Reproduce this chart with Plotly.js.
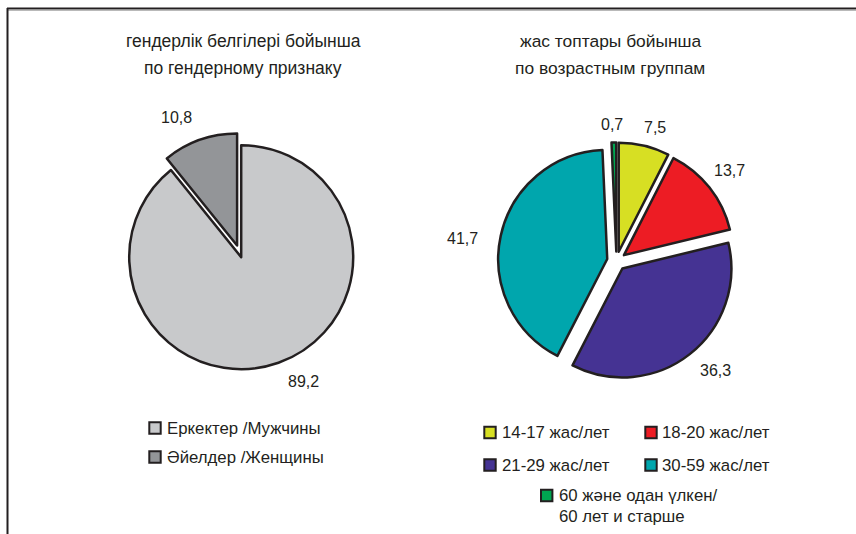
<!DOCTYPE html>
<html><head><meta charset="utf-8">
<script src="https://cdn.plot.ly/plotly-3.0.1.min.js"></script>
<style>html,body{margin:0;padding:0;background:#fff}</style>
</head><body>
<div id="chart" style="width:856px;height:534px"></div>
<script>
// ---------- data ----------
var genderLabels = ['Еркектер /Мужчины', 'Әйелдер /Женщины'];
var genderValues = [89.2, 10.8];
var ageLabels = ['14-17 жас/лет', '18-20 жас/лет', '21-29 жас/лет', '30-59 жас/лет', '60 және одан үлкен/<br>60 лет и старше'];
var ageValues = [7.5, 13.7, 36.3, 41.7, 0.7];
var genderTitle = ['гендерлік белгілері бойынша', 'по гендерному признаку'];
var ageTitle = ['жас топтары бойынша', 'по возрастным группам'];

// ---------- style ----------
var W = 856, H = 534;
function px(x) { return x / W; }
function py(y) { return 1 - y / H; }
var FONT = 'Liberation Sans, Arial, sans-serif';
var INK = '#231f20';
var genderColors = ['#c8c9cb', '#939598'];
var ageColors = ['#d7df23', '#ed1c24', '#453393', '#00a6ad', '#00a651'];
var genderPull = [0, 0.11];
var agePull = [0.087, 0.087, 0.087, 0.087, 0.087];

// pie geometry (pixels): center & half-size of domain
var gC = [241.2, 257.2], gHalf = 124.3;
var aC = [616.5, 261], aHalf = 118.5;

// value label positions (pixels)
var genderLabelPos = [[303, 381], [176, 118]];
var ageLabelPos = [[655, 127], [729, 170], [715, 370], [462, 238], [612, 124]];

// legend positions (pixels): swatch left x, center y, text x
var genderLegendPos = [[149.3, 428, 165], [149.3, 457, 165]];
var ageLegendPos = [[484.3, 432.5, 500], [645.3, 432.5, 660], [484.3, 465, 500], [645.3, 465, 660], [541, 495.5, 557]];
var SW = 11.4; // swatch size (inner)

function fmt(v) { return v.toFixed(1).replace('.', ','); }

var traces = [
  {
    type: 'pie', labels: genderLabels, values: genderValues, sort: false,
    direction: 'clockwise', rotation: 0, pull: genderPull,
    marker: { colors: genderColors, line: { color: INK, width: 2.5 } },
    textinfo: 'none', hoverinfo: 'none', showlegend: false,
    domain: { x: [px(gC[0] - gHalf), px(gC[0] + gHalf)], y: [py(gC[1] + gHalf), py(gC[1] - gHalf)] }
  },
  {
    type: 'pie', labels: ageLabels, values: ageValues, sort: false,
    direction: 'clockwise', rotation: 0, pull: agePull,
    marker: { colors: ageColors, line: { color: INK, width: 2.5 } },
    textinfo: 'none', hoverinfo: 'none', showlegend: false,
    domain: { x: [px(aC[0] - aHalf), px(aC[0] + aHalf)], y: [py(aC[1] + aHalf), py(aC[1] - aHalf)] }
  }
];

var annotations = [];
var shapes = [];
function addText(text, x, y, xanchor, size) {
  annotations.push({ text: text, x: px(x), y: py(y), xref: 'paper', yref: 'paper',
    xanchor: xanchor || 'center', yanchor: 'middle', showarrow: false, align: 'left',
    font: { family: FONT, size: size || 16, color: INK } });
}
// titles
addText(genderTitle[0], 243, 41, 'center', 17.5); addText(genderTitle[1], 243, 68, 'center', 17.5);
addText(ageTitle[0], 611, 41, 'center', 17.4); addText(ageTitle[1], 610, 68, 'center', 17.4);
// value labels
genderValues.forEach(function (v, i) { addText(fmt(v), genderLabelPos[i][0], genderLabelPos[i][1]); });
ageValues.forEach(function (v, i) { addText(fmt(v), ageLabelPos[i][0], ageLabelPos[i][1]); });
// legends
function addLegend(labels, colors, pos) {
  labels.forEach(function (lab, i) {
    var p = pos[i];
    shapes.push({ type: 'rect', xref: 'paper', yref: 'paper',
      x0: px(p[0]), x1: px(p[0] + SW), y0: py(p[1] + SW / 2), y1: py(p[1] - SW / 2),
      fillcolor: colors[i], line: { color: INK, width: 2 } });
    var lines = lab.split('<br>');
    lines.forEach(function (ln, k) { addText(ln, p[2], p[1] + k * 21.2, 'left', 16.8); });
  });
}
addLegend(genderLabels, genderColors, genderLegendPos);
addLegend(ageLabels, ageColors, ageLegendPos);
// frame
shapes.push({ type: 'line', xref: 'paper', yref: 'paper', x0: px(7), x1: px(856), y0: py(8.5), y1: py(8.5), line: { color: INK, width: 2 } });
shapes.push({ type: 'line', xref: 'paper', yref: 'paper', x0: px(8), x1: px(856), y0: py(10.2), y1: py(10.2), line: { color: '#9a9a9a', width: 1 } });
shapes.push({ type: 'line', xref: 'paper', yref: 'paper', x0: px(7.5), x1: px(7.5), y0: py(8), y1: py(534), line: { color: INK, width: 2 } });

var layout = {
  width: W, height: H, margin: { l: 0, r: 0, t: 0, b: 0 },
  paper_bgcolor: '#ffffff', plot_bgcolor: '#ffffff', showlegend: false,
  font: { family: FONT, size: 16, color: INK },
  annotations: annotations, shapes: shapes
};
Plotly.newPlot('chart', traces, layout, { displayModeBar: false, staticPlot: true });
</script>
</body></html>
